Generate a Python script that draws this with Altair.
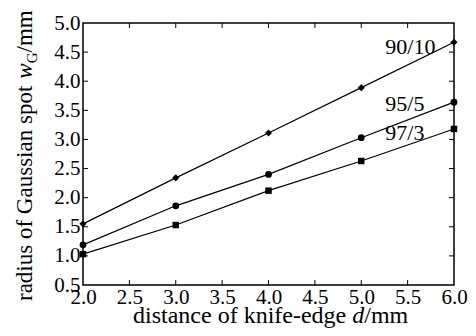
import altair as alt
import pandas as pd

# ---- data ----
x_vals = [2.0, 3.0, 4.0, 5.0, 6.0]
s_90_10 = [1.55, 2.34, 3.11, 3.89, 4.67]
s_95_5 = [1.19, 1.86, 2.40, 3.03, 3.64]
s_97_3 = [1.03, 1.53, 2.12, 2.63, 3.18]
series_names = ["90/10", "95/5", "97/3"]
series_shapes = ["diamond", "circle", "square"]
series_sizes = [50, 42, 64]
label_x = [5.26, 5.26, 5.26]
label_y = [4.46, 3.48, 2.99]
x_tick_vals = [2.5, 3.0, 3.5, 4.0, 4.5, 5.0, 5.5]
y_tick_vals = [1.0, 1.5, 2.0, 2.5, 3.0, 3.5, 4.0, 4.5]
x_axis_vals = [2.0, 2.5, 3.0, 3.5, 4.0, 4.5, 5.0, 5.5, 6.0]
y_axis_vals = [0.5, 1.0, 1.5, 2.0, 2.5, 3.0, 3.5, 4.0, 4.5, 5.0]

W, H = 371, 262
FONT = "Liberation Serif"

rows = []
for name, ys in zip(series_names, [s_90_10, s_95_5, s_97_3]):
    for xv, yv in zip(x_vals, ys):
        rows.append({"series": name, "d": xv, "w": yv})
df = pd.DataFrame(rows)
labels = pd.DataFrame({"series": series_names, "lx": label_x, "ly": label_y})
xt = pd.DataFrame({"t": x_tick_vals})
yt = pd.DataFrame({"t": y_tick_vals})

xscale = alt.Scale(domain=[2.0, 6.0], nice=False, zero=False)
yscale = alt.Scale(domain=[0.5, 5.0], nice=False, zero=False)
xaxis = alt.Axis(values=x_axis_vals, format=".1f", title=None, labelPadding=1,
                 labelOverlap=False, labelFlush=False)
yaxis = alt.Axis(values=y_axis_vals, format=".1f", title=None, labelPadding=3,
                 labelOverlap=False, labelFlush=False)

base = alt.Chart(df)
lines = base.mark_line(color="black", strokeWidth=1.2).encode(
    x=alt.X("d:Q", scale=xscale, axis=xaxis),
    y=alt.Y("w:Q", scale=yscale, axis=yaxis),
    detail="series:N",
)
points = base.mark_point(filled=True, color="black", opacity=1).encode(
    x=alt.X("d:Q", scale=xscale, axis=xaxis),
    y=alt.Y("w:Q", scale=yscale, axis=yaxis),
    shape=alt.Shape("series:N", scale=alt.Scale(domain=series_names, range=series_shapes), legend=None),
    size=alt.Size("series:N", scale=alt.Scale(domain=series_names, range=series_sizes), legend=None),
)
series_text = alt.Chart(labels).mark_text(
    align="left", baseline="alphabetic", font=FONT, fontSize=22, color="black"
).encode(
    x=alt.X("lx:Q", scale=xscale, axis=xaxis),
    y=alt.Y("ly:Q", scale=yscale, axis=yaxis),
    text="series:N",
)

tick_len = 5
bt = alt.Chart(xt).mark_rule(color="black", strokeWidth=1).encode(
    x=alt.X("t:Q", scale=xscale, axis=xaxis), y=alt.value(H), y2=alt.value(H - tick_len))
tt = alt.Chart(xt).mark_rule(color="black", strokeWidth=1).encode(
    x=alt.X("t:Q", scale=xscale, axis=xaxis), y=alt.value(0), y2=alt.value(tick_len))
lt = alt.Chart(yt).mark_rule(color="black", strokeWidth=1).encode(
    y=alt.Y("t:Q", scale=yscale, axis=yaxis), x=alt.value(0), x2=alt.value(tick_len))
rt = alt.Chart(yt).mark_rule(color="black", strokeWidth=1).encode(
    y=alt.Y("t:Q", scale=yscale, axis=yaxis), x=alt.value(W), x2=alt.value(W - tick_len))


def piece(text, x, y, size, angle=0, style="normal"):
    return alt.Chart(alt.Data(values=[{}])).mark_text(
        text=text, align="left", baseline="alphabetic", font=FONT, fontSize=size,
        fontStyle=style, angle=angle, color="black"
    ).encode(x=alt.value(x), y=alt.value(y))


# x-axis title: "distance of knife-edge d/mm"
XT = 24
xb = 300
x0 = 50
p1w = 9.136 * XT
xtitle = [
    piece("distance of knife-edge", x0, xb, XT),
    piece("d", x0 + p1w, xb, XT, style="italic"),
    piece("/mm", x0 + p1w + 0.5 * XT, xb, XT),
]

# y-axis title: "radius of Gaussian spot w_G/mm"
YT = 23
yb = -51.5
y0 = 278
q1 = 9.666 * YT
q2 = 0.667 * YT
GS = 15
q3 = 0.722 * GS
ytitle = [
    piece("radius of Gaussian spot", yb, y0, YT, angle=270),
    piece("w", yb, y0 - q1, YT, angle=270, style="italic"),
    piece("G", yb + 5, y0 - q1 - q2, GS, angle=270),
    piece("/mm", yb, y0 - q1 - q2 - q3, YT, angle=270),
]

chart = alt.layer(
    bt, tt, lt, rt, lines, points, series_text, *xtitle, *ytitle
).properties(
    width=W, height=H, autosize="none",
    padding={"left": 75, "top": 15, "right": 14, "bottom": 43},
).configure_view(
    stroke="black", strokeWidth=1.5
).configure_axis(
    labelFont=FONT, labelFontSize=21, labelColor="black", ticks=False,
    domain=False, grid=False, tickSize=0,
)

chart.save("out.html", embed_options={"renderer": "svg", "actions": False})
